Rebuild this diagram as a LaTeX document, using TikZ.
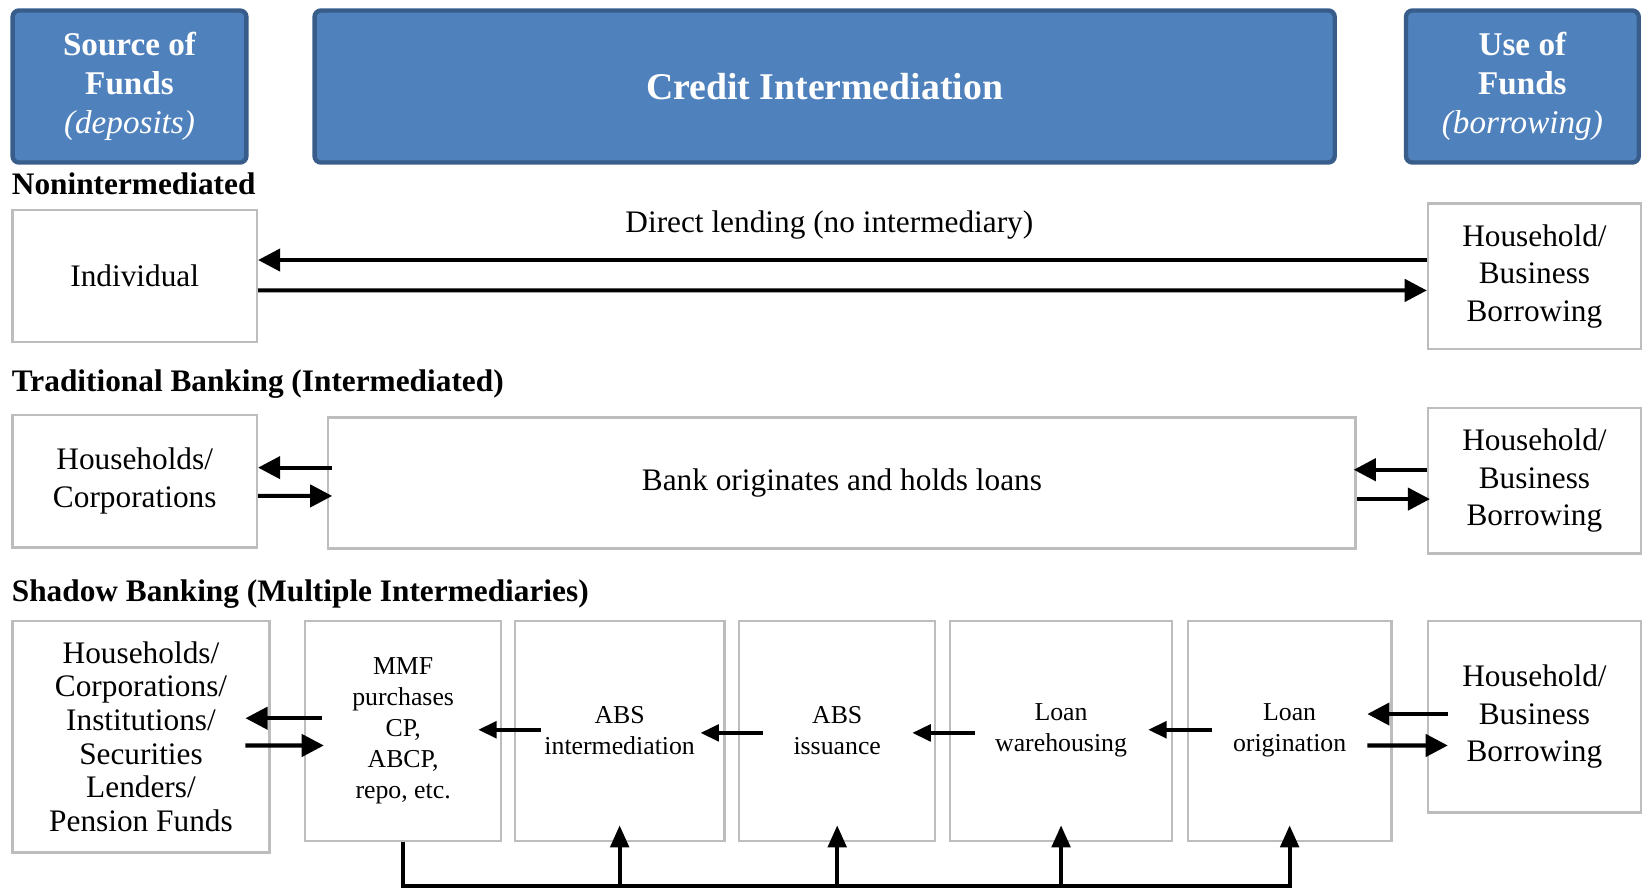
\documentclass[tikz,border=0pt]{standalone}
\usepackage{fontspec}
\setmainfont{Liberation Serif}
\usetikzlibrary{arrows.meta,calc}
\definecolor{headfill}{HTML}{4F81BD}
\definecolor{headline}{HTML}{385D8A}
\definecolor{boxline}{HTML}{BDBDBD}

\begin{document}
\begin{tikzpicture}[x=0.02cm,y=-0.02cm,
  boxsize/.style 2 args={minimum width=#1*0.02cm,minimum height=#2*0.02cm},
  headbox/.style={draw=headline,fill=headfill,line width=2.4pt,rounded corners=3.5pt,inner sep=0pt,text=white,align=center,font=\bfseries\fontsize{18}{21.3}\selectfont},
  plainbox/.style={draw=boxline,fill=white,line width=1.3pt,inner sep=0pt,align=center,font=\fontsize{17}{20.5}\selectfont},
  stagebox/.style={plainbox,boxsize={#1}{210},font=\fontsize{14}{16.8}\selectfont},
  rowlabel/.style={anchor=west,inner sep=0pt,font=\bfseries\fontsize{17}{19}\selectfont},
  flow/.style={line width=2.2pt,-{Triangle[length=12pt,width=12pt]}},
  backflow/.style={line width=2pt,-{Triangle[length=10pt,width=9pt]}},
  upflow/.style={line width=2.2pt,-{Triangle[length=12pt,width=10pt]}}]
\useasboundingbox (0,0) rectangle (1568,850);

\node[headbox,boxsize={223}{145}] (source) at (123.5,82.5) {Source of\\Funds\\\mdseries\itshape(deposits)};
\node[headbox,boxsize={973}{145},font=\bfseries\fontsize{20.5}{24}\selectfont] (credit) at (786.5,82.5) {Credit Intermediation};
\node[headbox,boxsize={222}{145}] (use) at (1452,82.5) {Use of\\Funds\\\mdseries\itshape(borrowing)};

\node[rowlabel] (nonint) at (11,175) {Nonintermediated};
\node[plainbox,boxsize={233}{126}] (indiv) at (128.5,263) {Individual};
\node[plainbox,boxsize={203}{139}] (borrowA) at (1463.5,263.5) {Household/\\Business\\Borrowing};
\node[inner sep=0pt,font=\fontsize{17}{20.5}\selectfont] (direct) at (791,215) {Direct lending (no intermediary)};
\draw[flow] ($(borrowA.west)+(0,-15.5)$) -- ($(indiv.east)+(0,-15)$);
\draw[flow] ($(indiv.east)+(0,14)$) -- ($(borrowA.west)+(0,13.5)$);

\node[rowlabel] (trad) at (11,366) {Traditional Banking (Intermediated)};
\node[plainbox,boxsize={233}{126}] (hhcorp) at (128.5,459) {Households/\\Corporations};
\node[plainbox,boxsize={980}{125}] (bank) at (803,460.5) {Bank originates and holds loans};
\node[plainbox,boxsize={203}{139}] (borrowB) at (1463.5,458.5) {Household/\\Business\\Borrowing};
\draw[flow] ($(bank.west)+(5,-14.5)$) -- ($(hhcorp.east)+(0,-13)$);
\draw[flow] ($(hhcorp.east)+(0,14)$) -- ($(bank.west)+(5,12.5)$);
\draw[flow] ($(borrowB.west)+(0,-10.5)$) -- ($(bank.east)+(-3,-12.5)$);
\draw[flow] ($(bank.east)+(0,15.5)$) -- ($(borrowB.west)+(3,17.5)$);

\node[rowlabel] (shadow) at (11,567) {Shadow Banking (Multiple Intermediaries)};
\node[plainbox,boxsize={245}{221},font=\fontsize{17}{18.3}\selectfont] (lenders) at (134.5,702.5) {Households/\\Corporations/\\Institutions/\\Securities\\Lenders/\\Pension Funds};
\node[stagebox=187] (mmf) at (384.5,697) {MMF\\purchases\\CP,\\ABCP,\\repo, etc.};
\node[stagebox=200] (absint) at (591,697) {ABS\\intermediation};
\node[stagebox=187] (absiss) at (798.5,697) {ABS\\issuance};
\node[stagebox=212] (warehouse) at (1012,697) {Loan\\warehousing};
\node[stagebox=194] (origin) at (1230,697) {Loan\\origination};
\node[plainbox,boxsize={203}{183}] (borrowC) at (1463.5,683.5) {Household/\\Business\\Borrowing};
\draw[flow] ($(mmf.west)+(17,-12)$) -- ($(lenders.east)+(-24,-17.5)$);
\draw[flow] ($(lenders.east)+(-24,8.5)$) -- ($(mmf.west)+(19,14)$);
\draw[backflow] ($(absint.west)+(26,-1)$) -- ($(mmf.east)+(-23,-1)$);
\draw[backflow] ($(absiss.west)+(24,2)$) -- ($(absint.east)+(-24,2)$);
\draw[backflow] ($(warehouse.west)+(25,2)$) -- ($(absiss.east)+(-23,2)$);
\draw[backflow] ($(origin.west)+(24,-1)$) -- ($(warehouse.east)+(-24,-1)$);
\draw[flow] ($(borrowC.west)+(20,-2.5)$) -- ($(origin.east)+(-24,-16)$);
\draw[flow] ($(origin.east)+(-24,14)$) -- ($(borrowC.west)+(20,27.5)$);

\coordinate (rail) at (384.5,845);
\draw[upflow] (mmf.south) |- (origin.south |- rail) -- ($(origin.south)+(0,-16)$);
\draw[upflow] (absint.south |- rail) -- ($(absint.south)+(0,-16)$);
\draw[upflow] (absiss.south |- rail) -- ($(absiss.south)+(0,-16)$);
\draw[upflow] (warehouse.south |- rail) -- ($(warehouse.south)+(0,-16)$);
\end{tikzpicture}
\end{document}
